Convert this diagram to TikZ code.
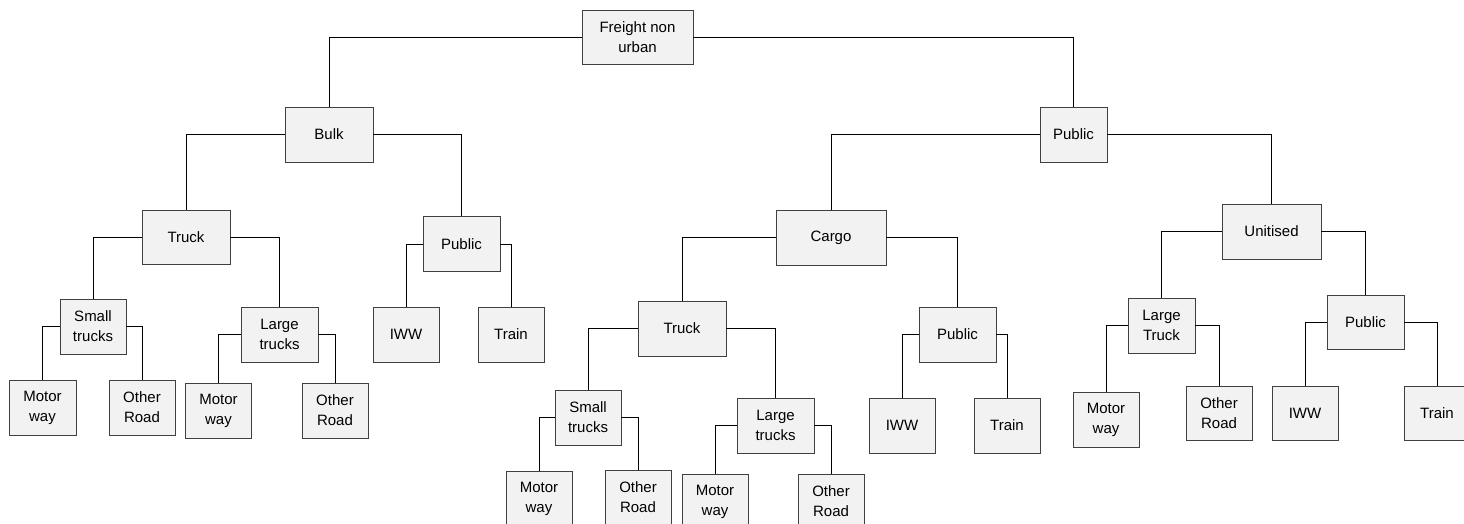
\documentclass[tikz,border=0pt]{standalone}
\usepackage{fontspec}
\setmainfont{Liberation Sans}
\definecolor{boxfill}{HTML}{F2F2F2}
\definecolor{boxline}{HTML}{404040}
\tikzset{
  tbox/.style={draw=boxline, fill=boxfill, line width=0.9pt, inner sep=0pt,
    align=center, font=\fontsize{15}{20}\selectfont},
  sbox/.style={tbox, minimum width=66pt, minimum height=55pt},
  mbox/.style={tbox, minimum width=77pt, minimum height=55pt},
  link/.style={draw=black, line width=0.9pt}
}
\begin{document}
\begin{tikzpicture}[x=1pt,y=-1pt]
\useasboundingbox (0,0) rectangle (1464,523);
\clip (0,0) rectangle (1464,523);
% root
\node[tbox, minimum width=111pt, minimum height=54pt] (root) at (637.5,37) {Freight non\\urban};
% bulk branch
\node[tbox, minimum width=88pt, minimum height=55pt] (bulk) at (329,134.5) {Bulk};
\node[tbox, minimum width=88pt, minimum height=54pt] (truckA) at (186,237) {Truck};
\node[mbox] (pubA) at (461.5,244) {Public};
\node[sbox] (smallA) at (93,326.5) {Small\\trucks};
\node[mbox] (largeA) at (279.5,334.5) {Large\\trucks};
\node[sbox, minimum width=67pt] (mwA) at (42.5,407.5) {Motor\\way};
\node[sbox] (orA) at (142,407.5) {Other\\Road};
\node[sbox] (mwB) at (218.5,410.5) {Motor\\way};
\node[sbox] (orB) at (335,410.5) {Other\\Road};
\node[sbox] (iwwA) at (406,334.5) {IWW};
\node[sbox] (trainA) at (511,334.5) {Train};
% public branch
\node[tbox, minimum width=67pt, minimum height=55pt] (pubTop) at (1073.5,134.5) {Public};
\node[tbox, minimum width=110pt, minimum height=55pt] (cargo) at (831,237.5) {Cargo};
\node[tbox, minimum width=88pt, minimum height=55pt] (truckB) at (682,328.5) {Truck};
\node[mbox] (pubB) at (957.5,334.5) {Public};
\node[sbox] (smallB) at (588,417.5) {Small\\trucks};
\node[mbox] (largeB) at (775.5,425.5) {Large\\trucks};
\node[sbox] (mwC) at (539,498.5) {Motor\\way};
\node[sbox] (orC) at (638,497.5) {Other\\Road};
\node[sbox] (mwD) at (715,501.5) {Motor\\way};
\node[sbox] (orD) at (831,501.5) {Other\\Road};
\node[sbox] (iwwB) at (902,425.5) {IWW};
\node[sbox] (trainB) at (1007,425.5) {Train};
\node[tbox, minimum width=99pt, minimum height=55pt] (unit) at (1271.5,231.5) {Unitised};
\node[sbox, minimum width=67pt] (largeC) at (1161.5,325.5) {Large\\Truck};
\node[tbox, minimum width=77pt, minimum height=54pt] (pubC) at (1365.5,322) {Public};
\node[sbox] (mwE) at (1106,419.5) {Motor\\way};
\node[sbox, minimum height=54pt] (orE) at (1219,413) {Other\\Road};
\node[sbox, minimum height=54pt] (iwwC) at (1305,413) {IWW};
\node[sbox, minimum height=54pt] (trainC) at (1437,413) {Train};
% connectors
\draw[link] (root.west) -| (bulk.north);
\draw[link] (root.east) -| (pubTop.north);
\draw[link] (bulk.west) -| (truckA.north);
\draw[link] (bulk.east) -| (pubA.north);
\draw[link] (truckA.west) -| (smallA.north);
\draw[link] (truckA.east) -| (largeA.north);
\draw[link] (smallA.west) -| (mwA.north);
\draw[link] (smallA.east) -| (orA.north);
\draw[link] (largeA.west) -| (mwB.north);
\draw[link] (largeA.east) -| (orB.north);
\draw[link] (pubA.west) -| (iwwA.north);
\draw[link] (pubA.east) -| (trainA.north);
\draw[link] (pubTop.west) -| (cargo.north);
\draw[link] (pubTop.east) -| (unit.north);
\draw[link] (cargo.west) -| (truckB.north);
\draw[link] (cargo.east) -| (pubB.north);
\draw[link] (truckB.west) -| (smallB.north);
\draw[link] (truckB.east) -| (largeB.north);
\draw[link] (smallB.west) -| (mwC.north);
\draw[link] (smallB.east) -| (orC.north);
\draw[link] (largeB.west) -| (mwD.north);
\draw[link] (largeB.east) -| (orD.north);
\draw[link] (pubB.west) -| (iwwB.north);
\draw[link] (pubB.east) -| (trainB.north);
\draw[link] (unit.west) -| (largeC.north);
\draw[link] (unit.east) -| (pubC.north);
\draw[link] (largeC.west) -| (mwE.north);
\draw[link] (largeC.east) -| (orE.north);
\draw[link] (pubC.west) -| (iwwC.north);
\draw[link] (pubC.east) -| (trainC.north);
\end{tikzpicture}
\end{document}
